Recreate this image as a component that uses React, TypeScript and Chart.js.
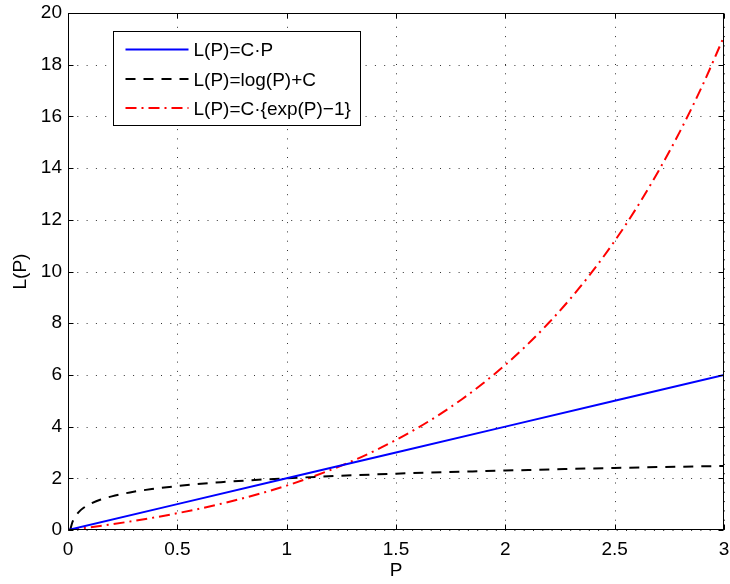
import React, { useEffect, useRef } from "react";
import { Chart, registerables } from "chart.js";

Chart.register(...registerables);

// ---- data ----
const xTickValues = [0, 0.5, 1, 1.5, 2, 2.5, 3];
const xTickLabels = ["0", "0.5", "1", "1.5", "2", "2.5", "3"];
const yTickValues = [0, 2, 4, 6, 8, 10, 12, 14, 16, 18, 20];
const yTickLabels = ["0", "2", "4", "6", "8", "10", "12", "14", "16", "18", "20"];
const legendLabels = ["L(P)=C·P", "L(P)=log(P)+C", "L(P)=C·{exp(P)−1}"];
const xAxisTitle = "P";
const yAxisTitle = "L(P)";

const linearP = [0, 0.5, 1, 1.5, 2, 2.5, 3];
const linearL = [0, 1, 2, 3, 4, 5, 6];

const logP = [0.01, 0.02, 0.03, 0.05, 0.07, 0.1, 0.15, 0.2, 0.3, 0.4, 0.5, 0.7, 1, 1.5, 2, 2.5, 3];
const logL = [0, 0.3, 0.48, 0.7, 0.85, 1.0, 1.18, 1.3, 1.48, 1.6, 1.7, 1.85, 2.0, 2.18, 2.3, 2.4, 2.48];

const expP = [0, 0.1, 0.2, 0.3, 0.4, 0.5, 0.6, 0.7, 0.8, 0.9, 1.0, 1.1, 1.2, 1.3, 1.4, 1.5, 1.6, 1.7, 1.8, 1.9, 2.0, 2.1, 2.2, 2.3, 2.4, 2.5, 2.6, 2.7, 2.8, 2.9, 3.0];
const expL = [0, 0.105, 0.221, 0.35, 0.492, 0.649, 0.822, 1.014, 1.226, 1.46, 1.718, 2.004, 2.32, 2.669, 3.055, 3.482, 3.953, 4.474, 5.05, 5.686, 6.389, 7.166, 8.025, 8.974, 10.02, 11.18, 12.46, 13.88, 15.44, 17.17, 19.09];

const FONT = "'Liberation Sans', Arial, Helvetica, sans-serif";
const FSIZE = 19;

const toPoints = (xs: number[], ys: number[]) => xs.map((x, i) => ({ x, y: ys[i] }));

const gridPlugin = {
  id: "matlabGrid",
  beforeDatasetsDraw(chart: any) {
    const { ctx, chartArea: a, scales } = chart;
    ctx.save();
    ctx.strokeStyle = "#333";
    ctx.lineWidth = 1;
    ctx.setLineDash([1, 8.3]);
    xTickValues.forEach((v) => {
      const x = Math.round(scales.x.getPixelForValue(v)) + 0.5;
      ctx.beginPath();
      ctx.moveTo(x, a.bottom);
      ctx.lineTo(x, a.top);
      ctx.stroke();
    });
    yTickValues.forEach((v) => {
      const y = Math.round(scales.y.getPixelForValue(v)) + 0.5;
      ctx.beginPath();
      ctx.moveTo(a.left, y);
      ctx.lineTo(a.right, y);
      ctx.stroke();
    });
    ctx.restore();
  },
  afterDatasetsDraw(chart: any) {
    const { ctx, chartArea: a, scales } = chart;
    ctx.save();
    ctx.setLineDash([]);
    ctx.strokeStyle = "#000";
    ctx.lineWidth = 1;
    const L = Math.round(a.left) + 0.5;
    const R = Math.round(a.right) - 0.5;
    const T = Math.round(a.top) + 0.5;
    const B = Math.round(a.bottom) - 0.5;
    ctx.strokeRect(L, T, R - L, B - T);
    const tl = 5;
    ctx.beginPath();
    xTickValues.forEach((v) => {
      const x = Math.round(scales.x.getPixelForValue(v)) + 0.5;
      ctx.moveTo(x, B);
      ctx.lineTo(x, B - tl);
      ctx.moveTo(x, T);
      ctx.lineTo(x, T + tl);
    });
    yTickValues.forEach((v) => {
      const y = Math.round(scales.y.getPixelForValue(v)) + 0.5;
      ctx.moveTo(L, y);
      ctx.lineTo(L + tl, y);
      ctx.moveTo(R, y);
      ctx.lineTo(R - tl, y);
    });
    ctx.stroke();
    ctx.restore();
  },
  afterDraw(chart: any) {
    const { ctx, chartArea: a } = chart;
    const bx = Math.round(a.left + 44.5) + 0.5;
    const by = Math.round(a.top + 17.5) + 0.5;
    const bw = 247;
    const bh = 94;
    ctx.save();
    ctx.fillStyle = "#fff";
    ctx.fillRect(bx, by, bw, bh);
    ctx.strokeStyle = "#000";
    ctx.lineWidth = 1;
    ctx.setLineDash([]);
    ctx.strokeRect(bx, by, bw, bh);
    const rows = [by + 18, by + 47.5, by + 76.5];
    chart.data.datasets.forEach((ds: any, i: number) => {
      const y = rows[i];
      ctx.save();
      ctx.strokeStyle = ds.borderColor;
      ctx.lineWidth = ds.borderWidth;
      ctx.setLineDash(ds.borderDash || []);
      ctx.beginPath();
      ctx.moveTo(bx + 12, y);
      ctx.lineTo(bx + 75, y);
      ctx.stroke();
      ctx.restore();
      ctx.fillStyle = "#000";
      ctx.font = `${FSIZE}px ${FONT}`;
      ctx.textBaseline = "middle";
      ctx.textAlign = "left";
      ctx.fillText(legendLabels[i], bx + 80, y + 1.5);
    });
    ctx.restore();
  },
};

export default function App() {
  const canvasRef = useRef<HTMLCanvasElement | null>(null);

  useEffect(() => {
    if (!canvasRef.current) return;
    const chart = new Chart(canvasRef.current, {
      type: "line",
      data: {
        datasets: [
          {
            label: legendLabels[0],
            data: toPoints(linearP, linearL),
            borderColor: "#0000ff",
            borderWidth: 2,
            pointRadius: 0,
            fill: false,
          },
          {
            label: legendLabels[1],
            data: toPoints(logP, logL),
            borderColor: "#000000",
            borderWidth: 2,
            borderDash: [10, 8],
            pointRadius: 0,
            fill: false,
            cubicInterpolationMode: "monotone",
          },
          {
            label: legendLabels[2],
            data: toPoints(expP, expL),
            borderColor: "#ff0000",
            borderWidth: 2,
            borderDash: [11, 5, 2, 5],
            pointRadius: 0,
            fill: false,
            cubicInterpolationMode: "monotone",
          },
        ],
      },
      options: {
        responsive: false,
        animation: false,
        layout: { padding: { top: 13, right: 6, bottom: 0, left: 0 } },
        plugins: { legend: { display: false }, tooltip: { enabled: false } },
        scales: {
          x: {
            type: "linear",
            min: 0,
            max: 3,
            afterBuildTicks: (s: any) => {
              s.ticks = xTickValues.map((v) => ({ value: v }));
            },
            afterFit: (s: any) => {
              s.height = 54;
              s.paddingLeft = 0;
              s.paddingRight = 0;
            },
            grid: { display: false, drawTicks: false },
            border: { display: false },
            ticks: {
              color: "#000",
              padding: 8,
              maxRotation: 0,
              autoSkip: false,
              font: { family: FONT, size: FSIZE },
              callback: (_v: any, i: number) => xTickLabels[i],
            },
            title: {
              display: true,
              text: xAxisTitle,
              color: "#000",
              padding: { top: 0, bottom: 2 },
              font: { family: FONT, size: FSIZE },
            },
          },
          y: {
            type: "linear",
            min: 0,
            max: 20,
            afterBuildTicks: (s: any) => {
              s.ticks = yTickValues.map((v) => ({ value: v }));
            },
            afterFit: (s: any) => {
              s.width = 68;
              s.paddingTop = 0;
              s.paddingBottom = 0;
            },
            grid: { display: false, drawTicks: false },
            border: { display: false },
            ticks: {
              color: "#000",
              padding: 6,
              autoSkip: false,
              font: { family: FONT, size: FSIZE },
              callback: (_v: any, i: number) => yTickLabels[i],
            },
            title: {
              display: true,
              text: yAxisTitle,
              color: "#000",
              padding: { top: 9, bottom: 0 },
              font: { family: FONT, size: FSIZE },
            },
          },
        },
      },
      plugins: [gridPlugin],
    });
    return () => chart.destroy();
  }, []);

  return (
    <div style={{ position: "absolute", left: 0, top: 0, width: 730, height: 584, background: "#fff" }}>
      <canvas ref={canvasRef} width={730} height={584} style={{ display: "block" }} />
    </div>
  );
}
